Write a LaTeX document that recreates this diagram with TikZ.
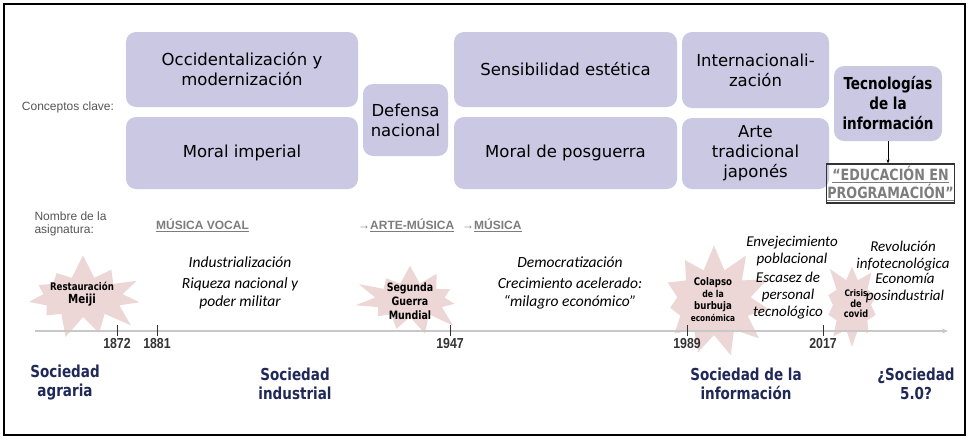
\documentclass[tikz,border=0pt]{standalone}
\usepackage{fontspec}
\setmainfont{DejaVu Sans}
\newfontfamily\condfont{DejaVu Sans}[FakeStretch=0.82]
\newfontfamily\arialfont{Liberation Sans}
\newfontfamily\yearfont{Liberation Sans}[FakeStretch=0.85]
\newfontfamily\calfont{Carlito}
\usetikzlibrary{shapes.symbols,arrows.meta}
\definecolor{conceptfill}{RGB}{202,200,226}
\definecolor{burstpink}{RGB}{236,214,214}
\definecolor{societyblue}{RGB}{32,40,88}
\definecolor{subjectgray}{RGB}{125,125,125}
\definecolor{labelgray}{RGB}{85,85,85}
\definecolor{axisgray}{RGB}{200,200,200}
\begin{document}
\begin{tikzpicture}[x=1pt, y=-1pt,
  concept/.style={fill=conceptfill, rounded corners=10pt, align=center, inner sep=0pt,
    text=black, font=\fontsize{16.5}{20}\selectfont},
  burst/.style={starburst, fill=burstpink, starburst points=11,
    starburst point height=24pt, random starburst=7, inner sep=0pt},
  bursttext/.style={align=center, font=\condfont\bfseries\fontsize{10.5}{13}\selectfont},
  trend/.style={align=center, font=\calfont\itshape\fontsize{15.5}{18}\selectfont},
  society/.style={align=center, text=societyblue,
    font=\condfont\bfseries\fontsize{16.5}{19}\selectfont},
  year/.style={below, inner sep=2pt, font=\yearfont\bfseries\fontsize{14.5}{14.5}\selectfont},
  subject/.style={anchor=west, inner sep=0pt, text=subjectgray,
    font=\arialfont\bfseries\fontsize{12}{14}\selectfont},
  sidelabel/.style={text=labelgray, align=left, font=\arialfont\fontsize{12}{13.5}\selectfont}]
  \useasboundingbox (0,0) rectangle (971,439);
  \draw[line width=1.2pt] (4,4) rectangle (965,435);

  % conceptos clave
  \node[sidelabel] (conceptos) at (68,107) {Conceptos clave:};
  \node[concept, minimum width=232pt, minimum height=75pt] (occidente) at (242,69.5)
    {Occidentalización y\\modernización};
  \node[concept, minimum width=232pt, minimum height=72pt] (imperial) at (242,153)
    {Moral imperial};
  \node[concept, minimum width=85pt, minimum height=72pt] (defensa) at (405.5,120)
    {Defensa\\nacional};
  \node[concept, minimum width=223pt, minimum height=75pt] (estetica) at (565.5,69.5)
    {Sensibilidad estética};
  \node[concept, minimum width=223pt, minimum height=72pt] (posguerra) at (565.5,153)
    {Moral de posguerra};
  \node[concept, minimum width=147pt, minimum height=76pt] (internacional) at (755.5,70)
    {Internacionali-\\zación};
  \node[concept, minimum width=147pt, minimum height=71pt] (tradicional) at (755.5,153.5)
    {Arte\\tradicional\\japonés};
  \node[concept, minimum width=108pt, minimum height=75pt,
    font=\condfont\bfseries\fontsize{16.5}{20}\selectfont] (tecnologias) at (888,103.5)
    {Tecnologías\\de la\\información};
  \node[draw=black!80, line width=1.2pt, inner sep=1pt, minimum width=121pt,
    minimum height=39pt, align=center, text=subjectgray,
    font=\condfont\bfseries\fontsize{15.5}{17.5}\selectfont] (programacion) at (890.5,183.5)
    {\underline{“EDUCACIÓN EN}\\\underline{PROGRAMACIÓN”}};
  \draw[-{Stealth[length=4pt,width=3pt]}, semithick] (tecnologias.south)
    -- (tecnologias.south |- programacion.north);

  % asignatura
  \node[sidelabel, anchor=west] (asignatura) at (31,224) {Nombre de la\\asignatura:};
  \node[subject] (vocal) at (156,225) {\underline{MÚSICA VOCAL}};
  \node[subject] (artemusica) at (358,225) {→\underline{ARTE-MÚSICA}};
  \node[subject] (musica) at (462,225) {→\underline{MÚSICA}};

  % acontecimientos
  \node[burst, minimum width=128pt, minimum height=88pt] (meiji) at (83,297) {};
  \node[bursttext] (meijitext) at (82,294) {Restauración\\{\fontsize{12.5}{14}\selectfont Meiji}};
  \node[burst, minimum width=118pt, minimum height=82pt, random starburst=21] (guerra) at (410,300) {};
  \node[bursttext, font=\condfont\bfseries\fontsize{11.5}{14}\selectfont] (guerratext) at (410,301)
    {Segunda\\Guerra\\Mundial};
  \node[burst, minimum width=122pt, minimum height=114pt, random starburst=33] (burbuja) at (714,302) {};
  \node[bursttext, font=\condfont\bfseries\fontsize{10.5}{12}\selectfont] (burbujatext) at (713,300)
    {Colapso\\{\fontsize{9.5}{12}\selectfont de la}\\burbuja\\{\fontsize{9}{12}\selectfont económica}};
  \node[burst, minimum width=78pt, minimum height=92pt, starburst points=10,
    starburst point height=20pt, random starburst=5] (covid) at (852,305) {};
  \node[bursttext, font=\condfont\bfseries\fontsize{10}{10.5}\selectfont] (covidtext) at (856,304)
    {{\fontsize{9}{10.5}\selectfont Crisis}\\de\\covid};

  % tendencias
  \node[trend] (industrializacion) at (240,262) {Industrialización};
  \node[trend] (riqueza) at (240,293) {Riqueza nacional y\\poder militar};
  \node[trend] (democratizacion) at (570,262) {Democratización};
  \node[trend] (crecimiento) at (570,293) {Crecimiento acelerado:\\“milagro económico”};
  \node[trend, font=\calfont\itshape\fontsize{15}{17}\selectfont] (envejecimiento) at (792,251)
    {Envejecimiento\\poblacional};
  \node[trend, font=\calfont\itshape\fontsize{15}{17}\selectfont] (escasez) at (788,296)
    {Escasez de\\personal\\tecnológico};
  \node[trend, font=\calfont\itshape\fontsize{15}{16.5}\selectfont] (revolucion) at (903,256)
    {Revolución\\infotecnológica};
  \node[trend, font=\calfont\itshape\fontsize{15}{16.5}\selectfont] (economia) at (905,288)
    {Economía\\posindustrial};

  % eje del tiempo
  \coordinate (axisstart) at (35,331);
  \coordinate (axisend) at (948,331);
  \draw[axisgray, line width=1.8pt, -{Stealth[length=6pt,width=5pt]}] (axisstart) -- (axisend);
  \foreach \yr/\xx in {1872/117, 1881/157, 1947/450, 1989/687, 2017/823}
    \draw[black!80, thin] (\xx,325) -- (\xx,336) node[year] (y\yr) {\yr};

  % sociedades
  \node[society] (agraria) at (65,383) {Sociedad\\agraria};
  \node[society] (industrial) at (295,384) {Sociedad\\industrial};
  \node[society] (informacion) at (746,384) {Sociedad de la\\información};
  \node[society] (cincocero) at (916,384) {¿Sociedad\\5.0?};
\end{tikzpicture}
\end{document}
